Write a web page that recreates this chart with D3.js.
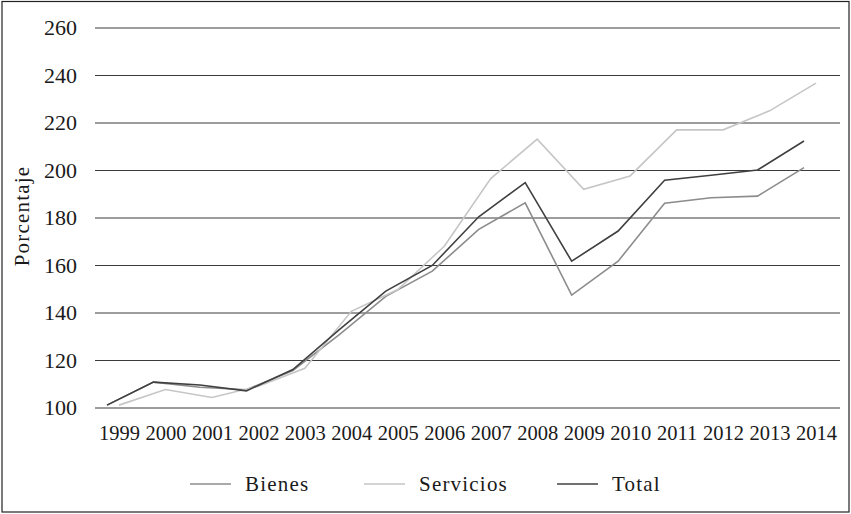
<!DOCTYPE html>
<html>
<head>
<meta charset="utf-8">
<script src="https://cdn.jsdelivr.net/npm/d3@7"></script>
<style>
  body { margin: 0; background: #fff; }
  svg { display: block; font-family: "Liberation Serif", "DejaVu Serif", serif; }
</style>
</head>
<body>
<div id="chart"></div>
<script>
////////////////////////////////////////////////////////////////
// Data
const years = [1999, 2000, 2001, 2002, 2003, 2004, 2005, 2006, 2007, 2008, 2009, 2010, 2011, 2012, 2013, 2014];
const bienes = [101, 110.7, 108.5, 107.5, 115.6, 130.7, 146.8, 157.4, 175, 186.2, 147.3, 161.6, 186, 188.3, 189, 201];
const servicios = [101, 107.6, 104.2, 109, 116.5, 140.5, 149.7, 167.9, 196.4, 213, 191.9, 197.5, 216.9, 216.9, 224.9, 236.6];
const total = [101, 110.7, 109.5, 107, 116, 132.8, 149, 159.8, 180.3, 194.7, 161.6, 174.3, 195.7, 197.8, 200, 212.2];
const yTicks = [100, 120, 140, 160, 180, 200, 220, 240, 260];
const seriesNames = ["Bienes", "Servicios", "Total"];

////////////////////////////////////////////////////////////////
// Layout
const width = 851, height = 514;
const margin = ({ top: 27.5, right: 11, bottom: 106.5, left: 95 });

// Excel-style offset of some lines relative to the category centres
const style = {
  Bienes:    { color: "#8c8c8c", dx: -12 },
  Servicios: { color: "#c6c6c6", dx: 0 },
  Total:     { color: "#404040", dx: -12 }
};

const series = [
  { name: "Bienes", values: bienes },
  { name: "Servicios", values: servicios },
  { name: "Total", values: total }
];

const x = d3.scalePoint()
  .domain(years)
  .range([119, 816]);

const y = d3.scaleLinear()
  .domain([100, 260])
  .range([height - margin.bottom, margin.top]);

const svg = d3.select("#chart")
  .append("svg")
  .attr("width", width)
  .attr("height", height)
  .attr("viewBox", [0, 0, width, height]);

// frame
svg.append("rect")
  .attr("x", 2).attr("y", 1.5)
  .attr("width", 847).attr("height", 510.5)
  .attr("fill", "none")
  .attr("stroke", "#222")
  .attr("stroke-width", 1.2);

// grid + y labels
const yAxis = d3.axisLeft(y)
  .tickValues(yTicks)
  .tickSize(-(840 - margin.left))
  .tickPadding(18);

svg.append("g")
  .attr("transform", `translate(${margin.left},0)`)
  .call(yAxis)
  .call(g => g.select(".domain").remove())
  .call(g => g.selectAll(".tick line").attr("stroke", "#3a3a3a").attr("stroke-width", 1))
  .call(g => g.selectAll(".tick text")
    .attr("fill", "#1a1a1a")
    .style("font-size", "22px")
    .style("font-family", "Liberation Serif, serif"));

// x labels
const xAxis = d3.axisBottom(x).tickSize(0).tickPadding(18);
svg.append("g")
  .attr("transform", `translate(0,${y(100)})`)
  .call(xAxis)
  .call(g => g.select(".domain").remove())
  .call(g => g.selectAll(".tick text")
    .attr("fill", "#1a1a1a")
    .style("font-size", "20.5px")
    .style("font-family", "Liberation Serif, serif"));

// y title
svg.append("text")
  .attr("transform", "translate(29,216) rotate(-90)")
  .attr("text-anchor", "middle")
  .attr("fill", "#1a1a1a")
  .style("font-size", "21px")
  .style("letter-spacing", "1.2px")
  .text("Porcentaje");

// lines
const line = (dx) => d3.line()
  .x((d, i) => x(years[i]) + dx)
  .y(d => y(d));

svg.append("g")
  .selectAll("path")
  .data(series)
  .join("path")
  .attr("fill", "none")
  .attr("stroke", d => style[d.name].color)
  .attr("stroke-width", 1.6)
  .attr("stroke-linejoin", "miter")
  .attr("d", d => line(style[d.name].dx)(d.values));

// legend
const legendX = [190, 364, 557];
const legend = svg.append("g")
  .selectAll("g")
  .data(seriesNames)
  .join("g")
  .attr("transform", (d, i) => `translate(${legendX[i]},484)`);

legend.append("line")
  .attr("x1", 0).attr("x2", 41)
  .attr("stroke", d => style[d].color)
  .attr("stroke-width", 1.6);

legend.append("text")
  .attr("x", 55)
  .attr("dy", "0.32em")
  .attr("fill", "#1a1a1a")
  .style("font-size", "21px")
  .style("letter-spacing", "1.2px")
  .text(d => d);
</script>
</body>
</html>
